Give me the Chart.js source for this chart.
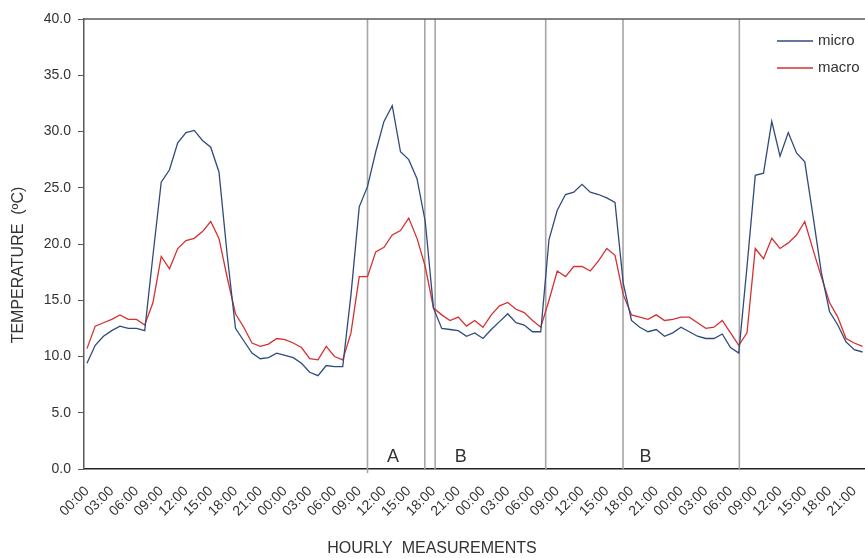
<!DOCTYPE html>
<html>
<head>
<meta charset="utf-8">
<script src="https://cdn.jsdelivr.net/npm/chart.js@4.4.1/dist/chart.umd.min.js"></script>
<style>
  html, body { margin: 0; padding: 0; background: #fff; overflow: hidden; }
</style>
</head>
<body>
<canvas id="grafico" width="865" height="558"></canvas>
<script>
// Dados - medições horárias (4 dias, 00:00 do dia 1 até 22:00 do dia 4)
const horas = Array.from({ length: 95 }, (_, i) => String(i % 24).padStart(2, '0') + ':00');

const micro = [
  9.4, 11.0, 11.8, 12.3, 12.7, 12.5, 12.5, 12.3, 19.0, 25.5, 26.6, 29.0,
  29.9, 30.1, 29.2, 28.6, 26.4, 19.0, 12.5, 11.4, 10.3, 9.8, 9.9, 10.3,
  10.1, 9.9, 9.4, 8.6, 8.3, 9.2, 9.1, 9.1, 15.5, 23.3, 25.1, 28.2,
  30.9, 32.3, 28.2, 27.5, 25.8, 22.0, 14.3, 12.5, 12.4, 12.3, 11.8, 12.1,
  11.6, 12.4, 13.1, 13.8, 13.0, 12.8, 12.2, 12.2, 20.4, 23.0, 24.4, 24.6,
  25.3, 24.6, 24.4, 24.1, 23.7, 16.5, 13.2, 12.6, 12.2, 12.4, 11.8, 12.1,
  12.6, 12.2, 11.8, 11.6, 11.6, 12.0, 10.8, 10.3, 18.0, 26.1, 26.3, 30.9,
  27.8, 29.9, 28.1, 27.3, 22.5, 17.5, 14.0, 12.8, 11.3, 10.6, 10.4
];

const macro = [
  10.7, 12.7, 13.0, 13.3, 13.7, 13.3, 13.3, 12.8, 14.8, 18.9, 17.8, 19.6,
  20.3, 20.5, 21.1, 22.0, 20.5, 17.0, 13.8, 12.6, 11.2, 10.9, 11.1, 11.6,
  11.5, 11.2, 10.8, 9.8, 9.7, 10.9, 10.0, 9.7, 12.1, 17.1, 17.1, 19.3,
  19.7, 20.8, 21.2, 22.3, 20.5, 18.0, 14.3, 13.7, 13.2, 13.5, 12.7, 13.2,
  12.6, 13.7, 14.5, 14.8, 14.2, 13.9, 13.2, 12.6, 15.0, 17.6, 17.1, 18.0,
  18.0, 17.6, 18.5, 19.6, 19.0, 15.5, 13.7, 13.5, 13.3, 13.7, 13.2, 13.3,
  13.5, 13.5, 13.0, 12.5, 12.6, 13.2, 12.1, 11.0, 12.1, 19.6, 18.7, 20.5,
  19.6, 20.1, 20.8, 22.0, 19.5, 17.1, 14.8, 13.5, 11.6, 11.2, 10.9
];

// divisórias verticais (em horas) e rótulos dos períodos
const divisorias = [34.0, 40.95, 42.2, 55.6, 64.97, 79.07];
const periodoLetras = ['A', 'B', 'B'];
const periodoHoras = [37.1, 45.3, 67.7];

const corMicro = '#304a7c';
const corMacro = '#d63030';
const fonte = '"Liberation Sans", Arial, sans-serif';

const extras = {
  id: 'extras',
  beforeDatasetsDraw(chart) {
    const ctx = chart.ctx;
    const area = chart.chartArea;
    const x = chart.scales.x;
    ctx.save();
    ctx.strokeStyle = '#a6a6a6';
    ctx.lineWidth = 1.6;
    divisorias.forEach((h, i) => {
      const px = x.getPixelForValue(h);
      ctx.beginPath();
      ctx.moveTo(px, area.top);
      ctx.lineTo(px, area.bottom + (i === 0 ? 4 : 0));
      ctx.stroke();
    });
    // borda superior
    ctx.strokeStyle = '#5a5a5a';
    ctx.lineWidth = 1.5;
    ctx.beginPath();
    ctx.moveTo(area.left, area.top);
    ctx.lineTo(area.right + 2, area.top);
    ctx.stroke();
    ctx.restore();
  },
  afterDraw(chart) {
    const ctx = chart.ctx;
    const area = chart.chartArea;
    const x = chart.scales.x;
    ctx.save();
    ctx.fillStyle = '#333';
    // letras dos períodos
    ctx.font = '18px ' + fonte;
    ctx.textAlign = 'center';
    ctx.textBaseline = 'alphabetic';
    periodoLetras.forEach((t, i) => {
      ctx.fillText(t, x.getPixelForValue(periodoHoras[i]), area.bottom - 7);
    });
    // títulos dos eixos
    ctx.font = '16px ' + fonte;
    ctx.textBaseline = 'middle';
    ctx.fillText('HOURLY  MEASUREMENTS', 432, 549);
    ctx.save();
    ctx.translate(19, 265);
    ctx.rotate(-Math.PI / 2);
    ctx.fillText('TEMPERATURE  (ºC)', 0, 0);
    ctx.restore();
    // legenda
    ctx.font = '15px ' + fonte;
    ctx.textAlign = 'left';
    chart.data.datasets.forEach((ds, i) => {
      const y = area.top + 22 + i * 27;
      ctx.strokeStyle = ds.borderColor;
      ctx.lineWidth = 1.3;
      ctx.beginPath();
      ctx.moveTo(777, y);
      ctx.lineTo(813, y);
      ctx.stroke();
      ctx.fillStyle = '#333';
      ctx.fillText(ds.label, 818, y);
    });
    ctx.restore();
  }
};

const grafico = new Chart(document.getElementById('grafico'), {
  type: 'line',
  data: {
    datasets: [
      {
        label: 'micro',
        data: micro.map((v, i) => ({ x: i, y: v })),
        borderColor: corMicro,
        borderWidth: 1.3,
        pointRadius: 0,
        tension: 0
      },
      {
        label: 'macro',
        data: macro.map((v, i) => ({ x: i, y: v })),
        borderColor: corMacro,
        borderWidth: 1.3,
        pointRadius: 0,
        tension: 0
      }
    ]
  },
  options: {
    responsive: false,
    animation: false,
    devicePixelRatio: 1,
    layout: { padding: { top: 19, right: 0, left: 0, bottom: 0 } },
    plugins: {
      legend: { display: false },
      tooltip: { enabled: false }
    },
    scales: {
      x: {
        type: 'linear',
        min: -0.36,
        max: 94.3,
        afterFit: (s) => { s.height = 89; s.paddingRight = 0; s.paddingLeft = 0; },
        grid: { display: false },
        border: { display: true, color: '#222', width: 1.5 },
        ticks: {
          stepSize: 3,
          autoSkip: false,
          includeBounds: false,
          minRotation: 45,
          maxRotation: 45,
          padding: 6,
          color: '#333',
          font: { family: fonte, size: 14 },
          callback: (v) => horas[v]
        }
      },
      y: {
        min: 0,
        max: 40,
        afterFit: (s) => { s.width = 84; },
        grid: { drawOnChartArea: false, tickLength: 6, color: '#5a5a5a', tickWidth: 1 },
        border: { display: true, color: '#5a5a5a', width: 1.5 },
        ticks: {
          stepSize: 5,
          padding: 7,
          color: '#333',
          font: { family: fonte, size: 14 },
          callback: (v) => v.toFixed(1)
        }
      }
    }
  },
  plugins: [extras]
});
</script>
</body>
</html>
